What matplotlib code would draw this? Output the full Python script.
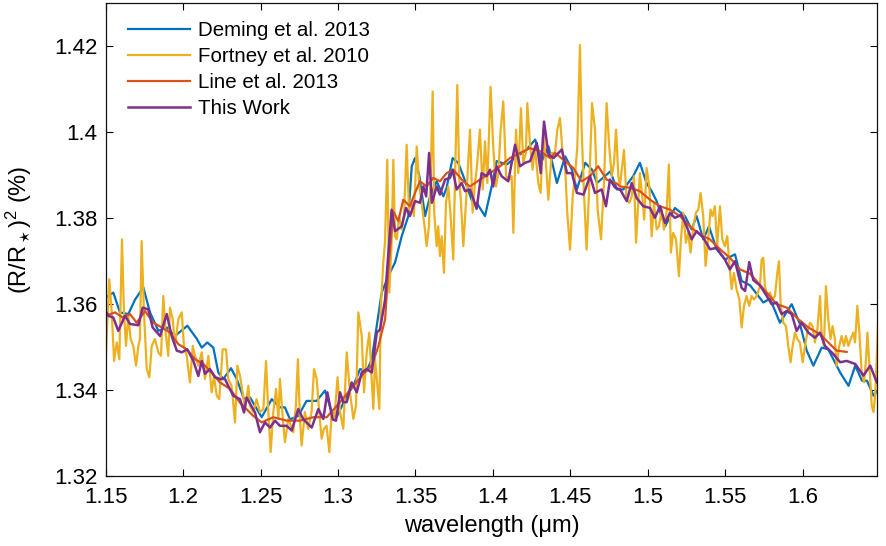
import matplotlib
matplotlib.use("Agg")
import matplotlib.pyplot as plt
from matplotlib.ticker import FixedLocator, FuncFormatter

plt.rcParams['font.family'] = ['Liberation Sans', 'DejaVu Sans']
plt.rcParams['mathtext.fontset'] = 'custom'
plt.rcParams['mathtext.rm'] = 'Liberation Sans'
plt.rcParams['mathtext.it'] = 'Liberation Sans:italic'

# ---------------- data ----------------
deming_wl = [1.1500, 1.1549, 1.1592, 1.1646, 1.1690, 1.1743, 1.1786, 1.1840, 1.1894, 1.1947,
             1.2027, 1.2087, 1.2120, 1.2156, 1.2195, 1.2227, 1.2259, 1.2309, 1.2346, 1.2393,
             1.2432, 1.2507, 1.2572, 1.2625, 1.2657, 1.2690, 1.2743, 1.2797, 1.2862, 1.2916,
             1.2959, 1.2991, 1.3056, 1.3099, 1.3142, 1.3185, 1.3218, 1.3250, 1.3282, 1.3325,
             1.3368, 1.3411, 1.3454, 1.3476, 1.3497, 1.3525, 1.3562, 1.3594, 1.3637, 1.3680,
             1.3701, 1.3740, 1.3776, 1.3809, 1.3873, 1.3895, 1.3949, 1.3992, 1.4024, 1.4089,
             1.4154, 1.4208, 1.4273, 1.4316, 1.4359, 1.4413, 1.4467, 1.4510, 1.4542, 1.4596,
             1.4640, 1.4672, 1.4758, 1.4801, 1.4842, 1.4906, 1.4949, 1.4992, 1.5025, 1.5057,
             1.5111, 1.5175, 1.5240, 1.5283, 1.5315, 1.5358, 1.5395, 1.5444, 1.5498, 1.5563,
             1.5606, 1.5660, 1.5746, 1.5789, 1.5853, 1.5929, 1.5983, 1.6026, 1.6069, 1.6123,
             1.6165, 1.6242, 1.6296, 1.6339, 1.6383, 1.6415, 1.6458, 1.6490]
deming_val = [1.3614, 1.3626, 1.3580, 1.3576, 1.3610, 1.3638, 1.3580, 1.3537, 1.3545, 1.3525,
              1.3549, 1.3519, 1.3498, 1.3510, 1.3498, 1.3440, 1.3425, 1.3450, 1.3425, 1.3378,
              1.3382, 1.3336, 1.3378, 1.3359, 1.3359, 1.3331, 1.3339, 1.3374, 1.3374, 1.3398,
              1.3348, 1.3336, 1.3386, 1.3409, 1.3448, 1.3444, 1.3471, 1.3549, 1.3626, 1.3665,
              1.3696, 1.3757, 1.3804, 1.3920, 1.3939, 1.3897, 1.3804, 1.3850, 1.3885, 1.3850,
              1.3870, 1.3939, 1.3928, 1.3897, 1.3831, 1.3835, 1.3804, 1.3873, 1.3932, 1.3924,
              1.3943, 1.3955, 1.3982, 1.3932, 1.3966, 1.3881, 1.3943, 1.3912, 1.3866, 1.3928,
              1.3912, 1.3881, 1.3908, 1.3866, 1.3866, 1.3897, 1.3928, 1.3881, 1.3862, 1.3839,
              1.3780, 1.3823, 1.3804, 1.3773, 1.3804, 1.3750, 1.3780, 1.3727, 1.3703, 1.3715,
              1.3653, 1.3643, 1.3603, 1.3612, 1.3556, 1.3599, 1.3552, 1.3491, 1.3456, 1.3498,
              1.3494, 1.3440, 1.3409, 1.3456, 1.3421, 1.3421, 1.3386, 1.3402]

fortney_wl = [1.1500, 1.1523, 1.1539, 1.1554, 1.1571, 1.1588, 1.1605, 1.1618, 1.1631, 1.1646,
              1.1661, 1.1678, 1.1696, 1.1711, 1.1721, 1.1732, 1.1747, 1.1765, 1.1782, 1.1797,
              1.1818, 1.1840, 1.1857, 1.1872, 1.1887, 1.1904, 1.1915, 1.1933, 1.1947, 1.1969,
              1.1991, 1.2005, 1.2023, 1.2044, 1.2062, 1.2076, 1.2098, 1.2120, 1.2141, 1.2163,
              1.2184, 1.2199, 1.2217, 1.2233, 1.2255, 1.2277, 1.2291, 1.2313, 1.2335, 1.2350,
              1.2367, 1.2384, 1.2399, 1.2421, 1.2431, 1.2453, 1.2474, 1.2496, 1.2518, 1.2535,
              1.2550, 1.2565, 1.2582, 1.2600, 1.2615, 1.2625, 1.2640, 1.2657, 1.2679, 1.2711,
              1.2728, 1.2741, 1.2754, 1.2765, 1.2786, 1.2808, 1.2829, 1.2845, 1.2862, 1.2879,
              1.2894, 1.2909, 1.2926, 1.2944, 1.2959, 1.2976, 1.2997, 1.3013, 1.3034, 1.3056,
              1.3077, 1.3099, 1.3116, 1.3131, 1.3153, 1.3168, 1.3185, 1.3202, 1.3217, 1.3228,
              1.3239, 1.3250, 1.3267, 1.3276, 1.3292, 1.3303, 1.3318, 1.3331, 1.3346, 1.3357,
              1.3368, 1.3379, 1.3395, 1.3411, 1.3426, 1.3443, 1.3458, 1.3475, 1.3490, 1.3508,
              1.3525, 1.3540, 1.3561, 1.3572, 1.3587, 1.3598, 1.3611, 1.3621, 1.3637, 1.3647,
              1.3658, 1.3669, 1.3684, 1.3697, 1.3712, 1.3727, 1.3744, 1.3760, 1.3770, 1.3783,
              1.3794, 1.3809, 1.3831, 1.3852, 1.3869, 1.3884, 1.3895, 1.3916, 1.3934, 1.3949,
              1.3964, 1.3985, 1.4002, 1.4020, 1.4035, 1.4050, 1.4067, 1.4085, 1.4106, 1.4121,
              1.4132, 1.4149, 1.4164, 1.4181, 1.4196, 1.4213, 1.4222, 1.4239, 1.4256, 1.4271,
              1.4293, 1.4308, 1.4325, 1.4342, 1.4358, 1.4379, 1.4401, 1.4416, 1.4433, 1.4450,
              1.4465, 1.4480, 1.4498, 1.4515, 1.4530, 1.4545, 1.4562, 1.4573, 1.4588, 1.4605,
              1.4622, 1.4640, 1.4659, 1.4676, 1.4698, 1.4717, 1.4734, 1.4751, 1.4767, 1.4782,
              1.4795, 1.4810, 1.4820, 1.4846, 1.4863, 1.4881, 1.4896, 1.4911, 1.4924, 1.4939,
              1.4949, 1.4964, 1.4977, 1.4992, 1.5010, 1.5025, 1.5040, 1.5057, 1.5072, 1.5089,
              1.5104, 1.5121, 1.5136, 1.5149, 1.5164, 1.5182, 1.5201, 1.5214, 1.5229, 1.5246,
              1.5261, 1.5276, 1.5294, 1.5311, 1.5326, 1.5341, 1.5358, 1.5373, 1.5390, 1.5405,
              1.5418, 1.5433, 1.5448, 1.5466, 1.5481, 1.5498, 1.5513, 1.5526, 1.5541, 1.5556,
              1.5573, 1.5591, 1.5606, 1.5621, 1.5638, 1.5655, 1.5670, 1.5685, 1.5703, 1.5724,
              1.5735, 1.5746, 1.5756, 1.5772, 1.5789, 1.5804, 1.5821, 1.5836, 1.5847, 1.5858,
              1.5875, 1.5892, 1.5907, 1.5922, 1.5935, 1.5950, 1.5965, 1.5982, 1.6000, 1.6015,
              1.6030, 1.6047, 1.6064, 1.6079, 1.6095, 1.6112, 1.6122, 1.6137, 1.6150, 1.6165,
              1.6180, 1.6193, 1.6208, 1.6219, 1.6236, 1.6251, 1.6267, 1.6279, 1.6295, 1.6310,
              1.6327, 1.6338, 1.6353, 1.6366, 1.6381, 1.6396, 1.6409, 1.6418, 1.6431, 1.6446,
              1.6457, 1.6468, 1.6478, 1.6489, 1.6496]
fortney_val = [1.3471, 1.3657, 1.3580, 1.3467, 1.3510, 1.3471, 1.3750, 1.3580, 1.3502, 1.3572,
               1.3518, 1.3502, 1.3456, 1.3502, 1.3518, 1.3746, 1.3580, 1.3448, 1.3429, 1.3502,
               1.3518, 1.3487, 1.3479, 1.3618, 1.3533, 1.3479, 1.3591, 1.3564, 1.3502, 1.3564,
               1.3580, 1.3502, 1.3479, 1.3417, 1.3502, 1.3479, 1.3456, 1.3487, 1.3425, 1.3479,
               1.3394, 1.3432, 1.3386, 1.3378, 1.3494, 1.3494, 1.3425, 1.3409, 1.3324, 1.3456,
               1.3432, 1.3394, 1.3355, 1.3409, 1.3363, 1.3348, 1.3378, 1.3348, 1.3355, 1.3467,
               1.3348, 1.3255, 1.3348, 1.3402, 1.3332, 1.3425, 1.3348, 1.3278, 1.3332, 1.3301,
               1.3363, 1.3471, 1.3332, 1.3270, 1.3348, 1.3309, 1.3348, 1.3448, 1.3425, 1.3348,
               1.3286, 1.3309, 1.3316, 1.3255, 1.3348, 1.3332, 1.3429, 1.3348, 1.3309, 1.3487,
               1.3394, 1.3332, 1.3363, 1.3580, 1.3525, 1.3394, 1.3487, 1.3533, 1.3425, 1.3355,
               1.3471, 1.3425, 1.3355, 1.3587, 1.3696, 1.3742, 1.3935, 1.3626, 1.3742, 1.3935,
               1.3757, 1.3750, 1.3804, 1.3773, 1.3804, 1.3970, 1.3819, 1.3835, 1.3804, 1.3966,
               1.3873, 1.3835, 1.3773, 1.3734, 1.3780, 1.3889, 1.4094, 1.3812, 1.3734, 1.3780,
               1.3711, 1.3757, 1.3672, 1.3835, 1.3873, 1.3804, 1.3703, 1.3966, 1.4109, 1.3889,
               1.3835, 1.3734, 1.3866, 1.4005, 1.3812, 1.3881, 1.3912, 1.4005, 1.3866, 1.3978,
               1.3881, 1.4105, 1.3966, 1.3873, 1.3904, 1.4005, 1.4071, 1.3897, 1.3889, 1.3897,
               1.3765, 1.4005, 1.3904, 1.4055, 1.3928, 1.3951, 1.4067, 1.3974, 1.3912, 1.3966,
               1.3881, 1.3858, 1.4005, 1.3929, 1.3842, 1.3951, 1.3951, 1.4005, 1.4032, 1.3951,
               1.3928, 1.3812, 1.3726, 1.3850, 1.3897, 1.3966, 1.4202, 1.4005, 1.3858, 1.3726,
               1.3873, 1.4067, 1.4005, 1.3819, 1.3750, 1.3881, 1.4067, 1.3966, 1.3897, 1.3928,
               1.4005, 1.3897, 1.3873, 1.3958, 1.3842, 1.3835, 1.3850, 1.3897, 1.3742, 1.3842,
               1.3904, 1.3850, 1.3796, 1.3916, 1.3873, 1.3757, 1.3835, 1.3773, 1.3780, 1.3819,
               1.3773, 1.3812, 1.3924, 1.3719, 1.3765, 1.3750, 1.3664, 1.3750, 1.3812, 1.3742,
               1.3765, 1.3719, 1.3780, 1.3812, 1.3819, 1.3858, 1.3804, 1.3688, 1.3750, 1.3819,
               1.3804, 1.3827, 1.3734, 1.3827, 1.3750, 1.3734, 1.3757, 1.3696, 1.3634, 1.3672,
               1.3634, 1.3610, 1.3545, 1.3595, 1.3618, 1.3595, 1.3618, 1.3610, 1.3618, 1.3641,
               1.3703, 1.3707, 1.3641, 1.3618, 1.3626, 1.3610, 1.3618, 1.3672, 1.3699, 1.3595,
               1.3556, 1.3548, 1.3502, 1.3464, 1.3502, 1.3533, 1.3518, 1.3510, 1.3464, 1.3502,
               1.3533, 1.3556, 1.3548, 1.3510, 1.3541, 1.3618, 1.3533, 1.3502, 1.3641, 1.3564,
               1.3518, 1.3548, 1.3518, 1.3456, 1.3502, 1.3525, 1.3502, 1.3525, 1.3502, 1.3518,
               1.3533, 1.3510, 1.3595, 1.3533, 1.3440, 1.3417, 1.3471, 1.3533, 1.3456, 1.3363,
               1.3348, 1.3386, 1.3471, 1.3580, 1.3560]

line_wl = [1.1500, 1.1560, 1.1610, 1.1657, 1.1700, 1.1754, 1.1807, 1.1862, 1.1915, 1.1969,
           1.2023, 1.2077, 1.2130, 1.2184, 1.2238, 1.2302, 1.2367, 1.2453, 1.2507, 1.2582,
           1.2669, 1.2755, 1.2841, 1.2927, 1.3013, 1.3099, 1.3164, 1.3218, 1.3261, 1.3304,
           1.3325, 1.3357, 1.3389, 1.3421, 1.3464, 1.3497, 1.3529, 1.3572, 1.3615, 1.3658,
           1.3701, 1.3744, 1.3809, 1.3852, 1.3917, 1.3981, 1.4046, 1.4110, 1.4175, 1.4240,
           1.4305, 1.4369, 1.4401, 1.4455, 1.4519, 1.4573, 1.4627, 1.4680, 1.4734, 1.4799,
           1.4821, 1.4885, 1.4949, 1.5014, 1.5079, 1.5143, 1.5208, 1.5272, 1.5337, 1.5401,
           1.5466, 1.5530, 1.5595, 1.5660, 1.5692, 1.5768, 1.5832, 1.5897, 1.5972, 1.6036,
           1.6112, 1.6165, 1.6219, 1.6284]
line_val = [1.3572, 1.3580, 1.3568, 1.3576, 1.3556, 1.3583, 1.3556, 1.3545, 1.3533, 1.3506,
            1.3494, 1.3471, 1.3460, 1.3440, 1.3417, 1.3402, 1.3370, 1.3339, 1.3324, 1.3336,
            1.3328, 1.3328, 1.3336, 1.3336, 1.3371, 1.3409, 1.3437, 1.3456, 1.3502, 1.3564,
            1.3680, 1.3815, 1.3792, 1.3842, 1.3827, 1.3858, 1.3885, 1.3873, 1.3893, 1.3885,
            1.3904, 1.3912, 1.3885, 1.3873, 1.3889, 1.3904, 1.3920, 1.3939, 1.3951, 1.3962,
            1.3955, 1.3939, 1.3951, 1.3935, 1.3916, 1.3885, 1.3897, 1.3920, 1.3889, 1.3880,
            1.3873, 1.3870, 1.3862, 1.3842, 1.3827, 1.3819, 1.3804, 1.3780, 1.3761, 1.3750,
            1.3727, 1.3707, 1.3680, 1.3670, 1.3657, 1.3626, 1.3599, 1.3591, 1.3564, 1.3545,
            1.3529, 1.3510, 1.3491, 1.3488]

thiswork_wl = [1.1500, 1.1517, 1.1549, 1.1581, 1.1625, 1.1657, 1.1711, 1.1739, 1.1775, 1.1803,
               1.1851, 1.1894, 1.1926, 1.1959, 1.1991, 1.2027, 1.2066, 1.2098, 1.2120, 1.2141,
               1.2173, 1.2206, 1.2238, 1.2270, 1.2291, 1.2324, 1.2367, 1.2393, 1.2410, 1.2464,
               1.2496, 1.2528, 1.2561, 1.2593, 1.2625, 1.2669, 1.2701, 1.2743, 1.2776, 1.2830,
               1.2873, 1.2905, 1.2931, 1.2965, 1.2987, 1.3013, 1.3034, 1.3056, 1.3088, 1.3121,
               1.3153, 1.3185, 1.3218, 1.3250, 1.3271, 1.3304, 1.3314, 1.3346, 1.3368, 1.3411,
               1.3439, 1.3464, 1.3497, 1.3529, 1.3551, 1.3569, 1.3588, 1.3606, 1.3637, 1.3658,
               1.3691, 1.3723, 1.3740, 1.3766, 1.3798, 1.3820, 1.3852, 1.3895, 1.3917, 1.3927,
               1.3959, 1.3981, 1.4002, 1.4024, 1.4056, 1.4099, 1.4143, 1.4175, 1.4207, 1.4240,
               1.4283, 1.4309, 1.4330, 1.4359, 1.4391, 1.4445, 1.4478, 1.4510, 1.4542, 1.4585,
               1.4627, 1.4659, 1.4702, 1.4730, 1.4756, 1.4789, 1.4821, 1.4864, 1.4896, 1.4928,
               1.4971, 1.5014, 1.5046, 1.5079, 1.5111, 1.5143, 1.5175, 1.5218, 1.5251, 1.5283,
               1.5315, 1.5358, 1.5401, 1.5444, 1.5498, 1.5530, 1.5563, 1.5606, 1.5628, 1.5655,
               1.5681, 1.5724, 1.5768, 1.5800, 1.5832, 1.5864, 1.5897, 1.5929, 1.5961, 1.5993,
               1.6036, 1.6079, 1.6112, 1.6144, 1.6198, 1.6242, 1.6284, 1.6339, 1.6392, 1.6436,
               1.6479]
thiswork_val = [1.3583, 1.3572, 1.3568, 1.3537, 1.3572, 1.3553, 1.3550, 1.3591, 1.3587, 1.3545,
                1.3525, 1.3576, 1.3525, 1.3491, 1.3487, 1.3494, 1.3467, 1.3432, 1.3467, 1.3437,
                1.3448, 1.3429, 1.3425, 1.3425, 1.3409, 1.3386, 1.3378, 1.3347, 1.3382, 1.3347,
                1.3301, 1.3324, 1.3312, 1.3328, 1.3316, 1.3316, 1.3305, 1.3355, 1.3331, 1.3312,
                1.3355, 1.3332, 1.3394, 1.3331, 1.3328, 1.3394, 1.3371, 1.3371, 1.3417, 1.3394,
                1.3440, 1.3448, 1.3440, 1.3533, 1.3540, 1.3610, 1.3665, 1.3819, 1.3769, 1.3780,
                1.3823, 1.3804, 1.3839, 1.3835, 1.3873, 1.3850, 1.3951, 1.3835, 1.3873, 1.3854,
                1.3889, 1.3893, 1.3912, 1.3866, 1.3881, 1.3862, 1.3866, 1.3821, 1.3881, 1.3904,
                1.3897, 1.3912, 1.3873, 1.3920, 1.3897, 1.3885, 1.3970, 1.3920, 1.3928, 1.3932,
                1.3974, 1.3904, 1.4024, 1.3947, 1.3939, 1.3959, 1.3904, 1.3904, 1.3858, 1.3854,
                1.3897, 1.3858, 1.3866, 1.3827, 1.3889, 1.3870, 1.3866, 1.3839, 1.3881, 1.3846,
                1.3827, 1.3823, 1.3800, 1.3827, 1.3788, 1.3811, 1.3800, 1.3807, 1.3780, 1.3750,
                1.3769, 1.3754, 1.3727, 1.3730, 1.3703, 1.3680, 1.3699, 1.3637, 1.3630, 1.3697,
                1.3655, 1.3643, 1.3618, 1.3599, 1.3603, 1.3576, 1.3583, 1.3576, 1.3537, 1.3556,
                1.3533, 1.3521, 1.3533, 1.3502, 1.3483, 1.3464, 1.3467, 1.3460, 1.3433, 1.3456,
                1.3417]

series_labels = ['Deming et al. 2013', 'Fortney et al. 2010', 'Line et al. 2013', 'This Work']
x_ticks = [1.15, 1.2, 1.25, 1.3, 1.35, 1.4, 1.45, 1.5, 1.55, 1.6]
y_ticks = [1.32, 1.34, 1.36, 1.38, 1.4, 1.42]

# ---------------- figure ----------------
fig = plt.figure(figsize=(8.86, 5.46), dpi=100)
ax = fig.add_axes([0.1193, 0.1288, 0.8711, 0.8658])

colors = ['#0072BD', '#EDB120', '#D95319', '#7E2F8E']
ax.plot(deming_wl, deming_val, color=colors[0], lw=1.6, label=series_labels[0])
ax.plot(fortney_wl, fortney_val, color=colors[1], lw=1.6, label=series_labels[1])
ax.plot(line_wl, line_val, color=colors[2], lw=1.6, label=series_labels[2])
ax.plot(thiswork_wl, thiswork_val, color=colors[3], lw=1.8, label=series_labels[3])

ax.set_xlim(1.15, 1.6483)
ax.set_ylim(1.32, 1.43)
ax.xaxis.set_major_locator(FixedLocator(x_ticks))
ax.yaxis.set_major_locator(FixedLocator(y_ticks))
fmt = FuncFormatter(lambda v, p: '%g' % round(v, 4))
ax.xaxis.set_major_formatter(fmt)
ax.yaxis.set_major_formatter(fmt)
ax.tick_params(direction='in', top=True, right=True, length=5, width=0.8,
               labelsize=16, colors='black')
ax.tick_params(axis='x', pad=8.5)
ax.tick_params(axis='y', pad=6)
for s in ax.spines.values():
    s.set_linewidth(0.9)
    s.set_color('#111111')

ax.set_xlabel('wavelength (μm)', fontsize=17, labelpad=5)
ax.set_ylabel(r'(R/R$_\star$)$^2$ (%)', fontsize=17)
ax.yaxis.set_label_coords(-0.093, 0.52)

ax.legend(loc='upper left', bbox_to_anchor=(0.029, 0.961), frameon=False,
          fontsize=14.8, handlelength=3.0, handletextpad=0.4, labelspacing=0.33,
          borderaxespad=0, borderpad=0)

fig.savefig('out.png', dpi=100)
